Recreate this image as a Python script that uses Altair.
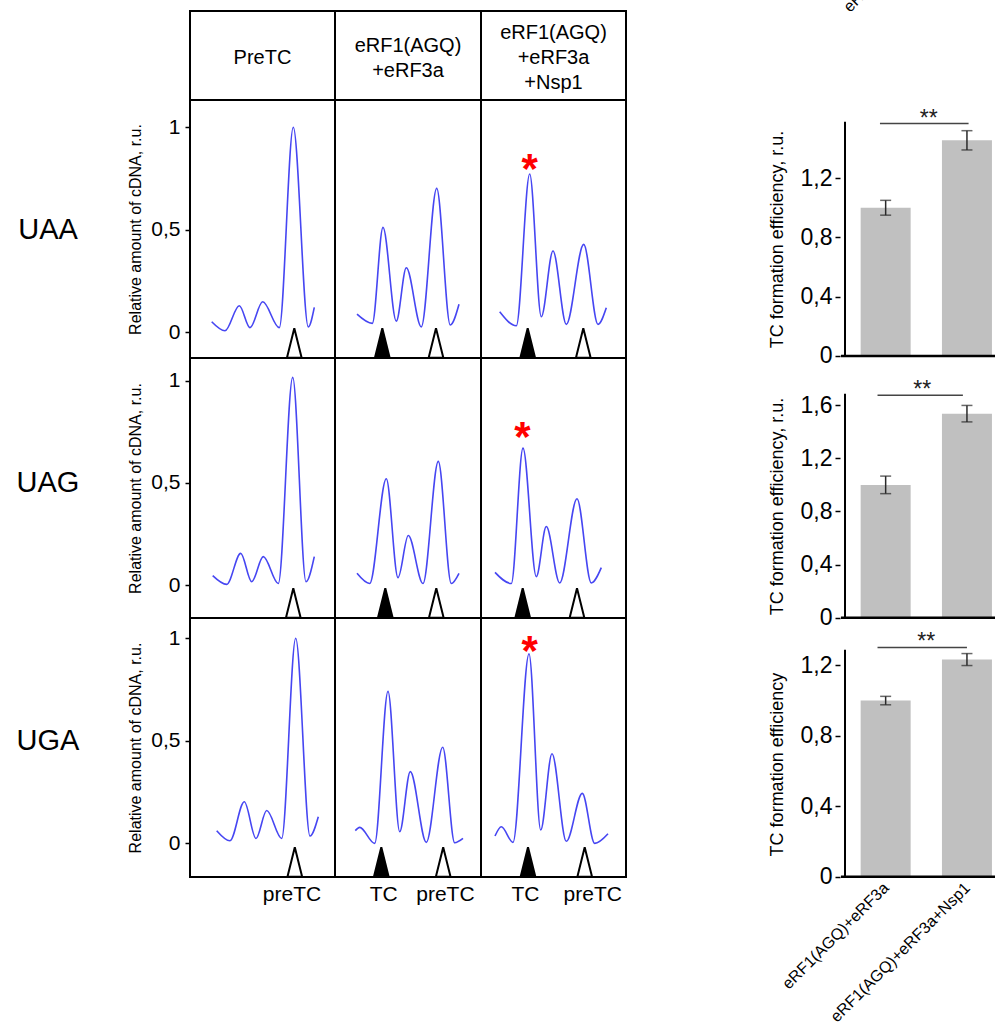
import altair as alt
import pandas as pd

FONT = "Liberation Sans"
TRACE_BLUE = "#4646f2"
BAR_GREY = "#c0c0c0"

codons = ["UAA", "UAG", "UGA"]
lane_titles = ["PreTC", "eRF1(AGQ)\n+eRF3a", "eRF1(AGQ)\n+eRF3a\n+Nsp1"]
conditions = ["eRF1(AGQ)+eRF3a", "eRF1(AGQ)+eRF3a+Nsp1"]

# --- toeprint traces: position along the lane, relative amount of cDNA (r.u.) ---
uaa_pre_x = [21.7, 35, 49.3, 60, 72.7, 89.3, 103.3, 118.3, 124.3]
uaa_pre_y = [0.052, 0.008, 0.13, 0.023, 0.149, 0.023, 1.0, 0.027, 0.122]
uaa_rf_x = [22, 37.3, 48, 61.3, 71.3, 86.3, 101.7, 115.3, 124]
uaa_rf_y = [0.089, 0.044, 0.512, 0.055, 0.315, 0.027, 0.702, 0.036, 0.137]
uaa_nsp_x = [18.7, 35.3, 48.7, 60.3, 72, 85.3, 102.7, 117, 125.3]
uaa_nsp_y = [0.10, 0.032, 0.772, 0.076, 0.397, 0.039, 0.429, 0.039, 0.12]

uag_pre_x = [22.7, 36.7, 50.7, 61.7, 73.3, 88.3, 102.7, 116, 124.3]
uag_pre_y = [0.046, 0.003, 0.155, 0.016, 0.139, 0.007, 1.016, 0.016, 0.139]
uag_rf_x = [22, 34.7, 51.3, 63, 73.3, 88, 103.3, 116.3, 124]
uag_rf_y = [0.057, 0.007, 0.52, 0.036, 0.242, 0.007, 0.605, 0.007, 0.057]
uag_nsp_x = [14, 30.3, 42, 55.3, 65.3, 78.7, 96, 110.3, 120.3]
uag_nsp_y = [0.062, 0.007, 0.67, 0.041, 0.286, 0.01, 0.422, 0.01, 0.085]

uga_pre_x = [26.7, 40, 54.3, 66, 76.7, 91.7, 105.7, 120, 128.3]
uga_pre_y = [0.062, 0.013, 0.203, 0.024, 0.16, 0.024, 1.0, 0.036, 0.13]
uga_rf_x = [20.3, 24.7, 39.7, 53, 64.7, 75.3, 91.3, 107.7, 119.7, 128]
uga_rf_y = [0.062, 0.078, 0.0, 0.741, 0.057, 0.35, 0.005, 0.469, 0.003, 0.024]
uga_nsp_x = [14, 20.3, 32, 48, 59.7, 71, 85.3, 101.3, 113.7, 127]
uga_nsp_y = [0.036, 0.081, 0.005, 0.924, 0.065, 0.437, 0.01, 0.244, 0.0, 0.047]

# --- arrowheads under the peaks (TC = filled, preTC = open) ---
lane_mark_kinds = [["preTC"], ["TC", "preTC"], ["TC", "preTC"]]
uaa_mark_x = [[104.3], [47.3, 101.0], [46.7, 102.3]]
uag_mark_x = [[103.3], [50.3, 101.3], [41.7, 96.0]]
uga_mark_x = [[104.8], [46.3, 108.2], [47.0, 103.7]]
mark_level = [-0.052, -0.088, -0.091]

# --- red asterisk over the TC peak with Nsp1 ---
star_x = [48.7, 41.3, 48.7]
star_y = [0.845, 0.771, 0.986]

# --- peak names under the bottom row ---
peak_names = [["preTC"], ["TC", "preTC"], ["TC", "preTC"]]
peak_name_x = [[102.0], [48.7, 110.4], [44.4, 111.7]]

# --- TC formation efficiency (mean, error) ---
uaa_eff = [1.0, 1.455]
uaa_err = [0.05, 0.065]
uag_eff = [1.0, 1.536]
uag_err = [0.066, 0.062]
uga_eff = [1.0, 1.233]
uga_err = [0.024, 0.034]
# significance bracket: start, end, level
uaa_sig = [0.93, 2.02, 1.568]
uag_sig = [0.90, 1.95, 1.674]
uga_sig = [0.90, 2.00, 1.302]
sig_label_x = [1.53, 1.45, 1.50]

# --- layout ---
lane_widths = [145, 146, 145]
row_heights = [258, 260, 259]
row_domains = [[-0.125, 1.133], [-0.1615, 1.111], [-0.164, 1.099]]
label_col_w = 190
gap_col_w = 214
top_h = 11
header_h = 89
header_line_h = 25
bar_w = 160
bar_x_domain = [0.5, 2.345]
bar_ymax = [1.58, 1.686, 1.289]          # top of the drawn value axis
bar_domains = [[-0.0135, 1.727], [-0.002, 1.955], [-0.002, 1.469]]
bar_ticks = [[0, 0.4, 0.8, 1.2], [0, 0.4, 0.8, 1.2, 1.6], [0, 0.4, 0.8, 1.2]]
bar_title_y = [139, 148, 146]
bar_titles = ["TC formation efficiency, r.u.", "TC formation efficiency, r.u.",
              "TC formation efficiency"]

COMMA = "replace(format(datum.value, '~g'), '.', ',')"
BOX = alt.ViewBackground(stroke="black", strokeWidth=2)
STAR_SIZE = 42


def spacer(w, h):
    return alt.Chart(pd.DataFrame({"v": [0]})).mark_point(opacity=0, size=1).properties(
        width=w, height=h)


def lane_panel(r, c, xs, ys, mark_x):
    w, h = lane_widths[c], row_heights[r]
    xsc = alt.Scale(domain=[0, w], nice=False, zero=False)
    ysc = alt.Scale(domain=row_domains[r], nice=False, zero=False)
    if c == 0:
        yaxis = alt.Axis(values=[0, 0.5, 1], labelExpr=COMMA, labelFont=FONT,
                         labelFontSize=21, labelColor="black", labelPadding=5,
                         labelFlush=False, labelOverlap=False,
                         tickSize=5, tickWidth=1.5, tickColor="black",
                         domain=False, grid=False,
                         title="Relative amount of cDNA, r.u.", titleFont=FONT,
                         titleFontSize=16, titleFontWeight="normal",
                         titleColor="black", titlePadding=7)
    else:
        yaxis = None
    X = alt.X("pos:Q", scale=xsc, axis=None)
    Y = alt.Y("amount:Q", scale=ysc, axis=yaxis)
    trace = pd.DataFrame({"pos": xs, "amount": ys})
    line = alt.Chart(trace).mark_line(
        interpolate="monotone", color=TRACE_BLUE, strokeWidth=1.6
    ).encode(x=X, y=Y)
    marks = pd.DataFrame({"pos": mark_x, "amount": [mark_level[r]] * len(mark_x),
                          "kind": lane_mark_kinds[c]})
    heads = alt.Chart(marks).mark_point(
        shape="M-0.5,1L0,-1L0.5,1Z", size=860, filled=True,
        stroke="black", strokeWidth=2, opacity=1
    ).encode(
        x=X, y=Y,
        fill=alt.Fill("kind:N", scale=alt.Scale(domain=["TC", "preTC"],
                                                range=["black", "white"]),
                      legend=None),
    )
    layers = [line, heads]
    if c == 2:
        star = pd.DataFrame({"pos": [star_x[r]], "amount": [star_y[r]], "s": ["*"]})
        layers.append(alt.Chart(star).mark_text(
            color="#ff0000", font=FONT, fontSize=STAR_SIZE, fontWeight="bold",
            baseline="alphabetic", dy=round(0.575 * STAR_SIZE)
        ).encode(x=X, y=Y, text="s:N"))
    if r == 2:
        names = pd.DataFrame({"pos": peak_name_x[c], "name": peak_names[c]})
        layers.append(alt.Chart(names).mark_text(
            font=FONT, fontSize=21, color="black", baseline="middle"
        ).encode(x=X, y=alt.value(h + 18), text="name:N"))
    return alt.layer(*layers).properties(width=w, height=h, view=BOX)


def codon_cell(r):
    df = pd.DataFrame({"codon": [codons[r]], "amount": [0.5]})
    return alt.Chart(df).mark_text(
        font=FONT, fontSize=29, color="black", baseline="middle"
    ).encode(
        x=alt.value(48),
        y=alt.Y("amount:Q", scale=alt.Scale(domain=row_domains[r], nice=False,
                                            zero=False), axis=None),
        text="codon:N",
    ).properties(width=label_col_w, height=row_heights[r])


def header_cell(c):
    title = lane_titles[c]
    n_lines = title.count("\n") + 1
    first_line_y = 47 - (n_lines - 1) * header_line_h / 2
    df = pd.DataFrame({"t": [title]})
    return alt.Chart(df).mark_text(
        font=FONT, fontSize=20, color="black", lineBreak="\n",
        lineHeight=header_line_h, baseline="middle", align="center"
    ).encode(
        x=alt.value(lane_widths[c] / 2), y=alt.value(first_line_y), text="t:N"
    ).properties(width=lane_widths[c], height=header_h, view=BOX)


def bar_panel(i, eff, err, sig, show_names):
    h = row_heights[i]
    df = pd.DataFrame({"slot": [1, 2], "eff": eff,
                       "lo": [m - e for m, e in zip(eff, err)],
                       "hi": [m + e for m, e in zip(eff, err)]})
    xsc = alt.Scale(domain=bar_x_domain, nice=False, zero=False)
    ysc = alt.Scale(domain=bar_domains[i], nice=False, zero=False)
    names_expr = "[" + ",".join("'%s'" % n for n in conditions) + "][datum.value - 1]"
    if show_names:
        xaxis = alt.Axis(values=[1, 2], labelExpr=names_expr,
                         labelAngle=315, labelAlign="right", labelBaseline="middle",
                         labelFont=FONT, labelFontSize=16, labelColor="black",
                         labelPadding=8, labelLimit=400, labelFlush=False,
                         labelOverlap=False, ticks=False, domain=False, grid=False,
                         title=None)
    else:
        xaxis = None
    yaxis = alt.Axis(values=bar_ticks[i], labelExpr=COMMA, labelFont=FONT,
                     labelFontSize=23, labelColor="black", labelPadding=3,
                     labelFlush=False, labelOverlap=False,
                     tickSize=5, tickWidth=1.5, tickColor="black",
                     domain=False, grid=False,
                     title=bar_titles[i], titleFont=FONT, titleFontSize=18,
                     titleFontWeight="normal", titleColor="black", titlePadding=14,
                     titleY=bar_title_y[i])

    def X(f):
        return alt.X(f, scale=xsc, axis=xaxis)

    def Y(f):
        return alt.Y(f, scale=ysc, axis=yaxis)

    base = alt.Chart(df)
    bars = base.mark_bar(color=BAR_GREY, width=50, orient="vertical").encode(
        x=X("slot:Q"), y=Y("eff:Q"), y2=alt.datum(0))
    whisker = base.mark_rule(color="#2a2a2a", strokeWidth=1.5).encode(
        x=X("slot:Q"), y=Y("lo:Q"), y2="hi:Q")
    cap_lo = base.mark_tick(color="#2a2a2a", orient="horizontal", size=11,
                            thickness=1.5).encode(x=X("slot:Q"), y=Y("lo:Q"))
    cap_hi = base.mark_tick(color="#2a2a2a", orient="horizontal", size=11,
                            thickness=1.5).encode(x=X("slot:Q"), y=Y("hi:Q"))
    # value axis line and baseline
    frame = pd.DataFrame({"x1": [bar_x_domain[0], bar_x_domain[0] - 0.05],
                          "x2": [bar_x_domain[0], bar_x_domain[1]],
                          "y1": [0.0, 0.0], "y2": [bar_ymax[i], 0.0],
                          "w": ["axis", "base"]})
    axis_lines = alt.Chart(frame).mark_rule(color="black").encode(
        x=X("x1:Q"), x2="x2:Q", y=Y("y1:Q"), y2="y2:Q",
        strokeWidth=alt.StrokeWidth("w:N", scale=alt.Scale(domain=["axis", "base"],
                                                          range=[2, 2.5]),
                                    legend=None),
    )
    sdf = pd.DataFrame({"x1": [sig[0]], "x2": [sig[1]], "level": [sig[2]],
                        "sx": [sig_label_x[i]], "stars": ["**"]})
    sig_line = alt.Chart(sdf).mark_rule(color="#444444", strokeWidth=1.5).encode(
        x=X("x1:Q"), x2="x2:Q", y=Y("level:Q"))
    sig_text = alt.Chart(sdf).mark_text(
        font=FONT, fontSize=23, color="#222222", baseline="alphabetic", dy=2
    ).encode(x=X("sx:Q"), y=Y("level:Q"), text="stars:N")
    return alt.layer(bars, whisker, cap_lo, cap_hi, axis_lines, sig_line,
                     sig_text).properties(width=bar_w, height=h)


all_x = [[uaa_pre_x, uaa_rf_x, uaa_nsp_x],
         [uag_pre_x, uag_rf_x, uag_nsp_x],
         [uga_pre_x, uga_rf_x, uga_nsp_x]]
all_y = [[uaa_pre_y, uaa_rf_y, uaa_nsp_y],
         [uag_pre_y, uag_rf_y, uag_nsp_y],
         [uga_pre_y, uga_rf_y, uga_nsp_y]]
all_marks = [uaa_mark_x, uag_mark_x, uga_mark_x]
all_eff = [uaa_eff, uag_eff, uga_eff]
all_err = [uaa_err, uag_err, uga_err]
all_sig = [uaa_sig, uag_sig, uga_sig]

# partly visible axis label of the panel above the first bar chart
top_label = alt.Chart(pd.DataFrame({"t": [conditions[0]]})).mark_text(
    font=FONT, fontSize=16, color="black", angle=315, align="left",
    baseline="alphabetic", clip=True
).encode(x=alt.value(10), y=alt.value(13), text="t:N").properties(
    width=bar_w, height=top_h)

cells = [spacer(label_col_w, top_h)]
cells += [spacer(lane_widths[c], top_h) for c in range(3)]
cells += [spacer(gap_col_w, top_h), top_label]

cells += [spacer(label_col_w, header_h)]
cells += [header_cell(c) for c in range(3)]
cells += [spacer(gap_col_w, header_h), spacer(bar_w, header_h)]

for r in range(3):
    cells.append(codon_cell(r))
    cells += [lane_panel(r, c, all_x[r][c], all_y[r][c], all_marks[r][c])
              for c in range(3)]
    cells.append(spacer(gap_col_w, row_heights[r]))
    cells.append(bar_panel(r, all_eff[r], all_err[r], all_sig[r], r == 2))

chart = alt.concat(*cells, columns=6, spacing=0, align="each",
                   bounds="flush").properties(
    padding={"left": 0, "top": 0, "right": 0, "bottom": 0}
).configure(
    font=FONT, view=alt.ViewConfig(stroke="transparent", strokeWidth=0)
)

chart.save("out.html", embed_options={"renderer": "svg", "actions": False})
